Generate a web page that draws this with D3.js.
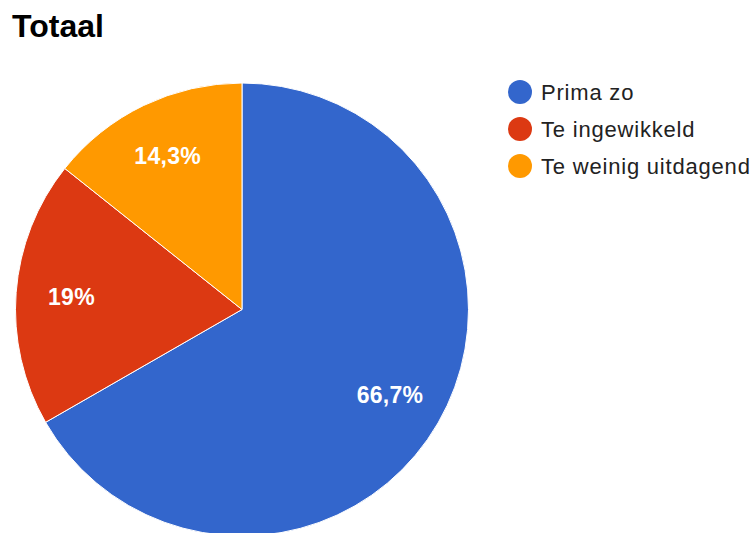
<!DOCTYPE html>
<html lang="nl">
<head>
  <meta charset="UTF-8">
  <title>Totaal</title>
  <script src="https://d3js.org/d3.v7.min.js"></script>
  <style>
    body { margin: 0; background: #fff; font-family: 'Liberation Sans', Arial, sans-serif; }
    .title { font-size: 32px; font-weight: bold; fill: #000; }
    .legend { font-size: 22px; letter-spacing: 0.8px; fill: #222; }
    .slice-label { font-size: 23px; letter-spacing: 0.3px; font-weight: bold; fill: #fff; }
  </style>
</head>
<body>
  <svg id="chart" width="756" height="533"></svg>
  <script>
    const categories = ["Prima zo", "Te ingewikkeld", "Te weinig uitdagend"];
    const values = [66.7, 19, 14.3];
    const labels = ["66,7%", "19%", "14,3%"];
    const colors = ["#3366cc", "#dc3912", "#ff9900"];

    const svg = d3.select("#chart");

    svg.append("text")
      .attr("class", "title")
      .attr("x", 12)
      .attr("y", 37)
      .text("Totaal");

    const cx = 242, cy = 309.5, radius = 226.5;

    const pie = d3.pie().sort(null).value(d => d.value);
    const arc = d3.arc().innerRadius(0).outerRadius(radius);
    const labelArc = d3.arc().innerRadius(radius * 0.755).outerRadius(radius * 0.755);

    const dataset = categories.map((c, i) => ({ name: c, value: values[i], label: labels[i], color: colors[i] }));

    const g = svg.append("g").attr("transform", `translate(${cx},${cy})`);

    g.selectAll("path")
      .data(pie(dataset))
      .enter()
      .append("path")
      .attr("d", arc)
      .attr("fill", d => d.data.color)
      .attr("stroke", "#fff")
      .attr("stroke-width", 1);

    g.selectAll(".slice-label")
      .data(pie(dataset))
      .enter()
      .append("text")
      .attr("class", "slice-label")
      .attr("transform", d => `translate(${labelArc.centroid(d)})`)
      .attr("text-anchor", "middle")
      .attr("dy", "0.36em")
      .text(d => d.data.label);

    const legend = svg.append("g").attr("transform", "translate(520, 92)");

    dataset.forEach((d, i) => {
      const yOffset = i * 37;
      legend.append("circle")
        .attr("cx", 0)
        .attr("cy", yOffset)
        .attr("r", 12)
        .attr("fill", d.color);
      legend.append("text")
        .attr("class", "legend")
        .attr("x", 21)
        .attr("y", yOffset + 8)
        .text(d.name);
    });
  </script>
</body>
</html>
